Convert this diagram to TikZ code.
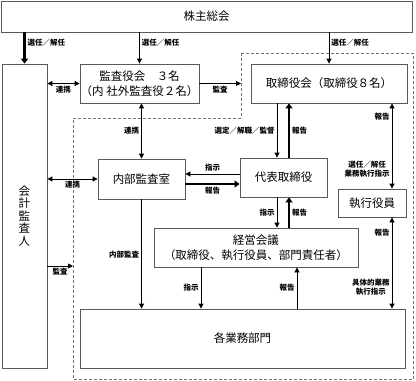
\documentclass[tikz,border=0pt]{standalone}
\usepackage{fontspec}
\setmainfont{Noto Sans CJK JP}
\usetikzlibrary{arrows.meta}

\begin{document}
\begin{tikzpicture}[
    x=1pt, y=-1pt,
    box/.style={rectangle, draw=black!65, line width=0.8pt, fill=white, align=center, inner sep=0pt, font=\fontsize{11.5}{15}\selectfont},
    region/.style={draw=black!55, line width=0.8pt, dash pattern=on 3pt off 2pt},
    arrow/.style={-{Triangle[length=5pt, width=5pt]}, line width=0.8pt},
    biarrow/.style={{Triangle[length=5pt, width=5pt]}-{Triangle[length=5pt, width=5pt]}, line width=0.8pt},
    thickarrow/.style={-{Triangle[length=5pt, width=7pt]}, line width=2.4pt},
    lbl/.style={font=\fontsize{7.5}{9}\selectfont\bfseries, align=center, inner sep=2pt}
]
\useasboundingbox (0,0) rectangle (416,381);
% Dashed region (execution side)
\draw[region] (241,53) -- (413,53) -- (413,379.5) -- (73,379.5) -- (73,118) -- (241,118) -- cycle;
\coordinate (regkansa) at (241,83.5);
\coordinate (regkaikei) at (73,266);
% Nodes
\node[box, minimum width=411pt, minimum height=31pt] (kabu) at (206.5,16.5) {株主総会};
\node[box, minimum width=45pt, minimum height=304pt, font=\fontsize{11.5}{12.5}\selectfont] (kaikei) at (24.5,216) {会\\計\\監\\査\\人};
\node[box, minimum width=119pt, minimum height=39pt] (kansa) at (139.5,83.5) {監査役会　３名\\（内 社外監査役２名）};
\node[box, minimum width=156pt, minimum height=39pt] (torishimari) at (329,83.5) {取締役会（取締役８名）};
\node[box, minimum width=87pt, minimum height=40pt] (naibu) at (141.5,179) {内部監査室};
\node[box, minimum width=87pt, minimum height=39pt] (daihyo) at (283.5,177.5) {代表取締役};
\node[box, minimum width=68pt, minimum height=28pt] (shikko) at (372,203) {執行役員};
\node[box, minimum width=204pt, minimum height=39pt] (keiei) at (256,247.5) {経営会議\\（取締役、執行役員、部門責任者）};
\node[box, minimum width=325pt, minimum height=59pt] (gyomu) at (242.5,338.5) {各業務部門};
% Shareholders
\draw[thickarrow] (kabu.south -| kaikei) -- node[lbl, right, pos=0.33] {選任／解任} (kaikei.north);
\draw[arrow] (kabu.south -| kansa) -- node[lbl, right, pos=0.33] {選任／解任} (kansa.north);
\draw[arrow] (kabu.south -| torishimari) -- node[lbl, right, pos=0.33] {選任／解任} (torishimari.north);
% Audit side
\draw[biarrow] (kaikei.east |- kansa) -- node[lbl, below] {連携} (kansa.west);
\draw[arrow] (kansa.east) -- node[lbl, below] {監査} (regkansa);
\draw[biarrow] (kansa.south -| naibu) -- node[lbl, left] {連携} (naibu.north);
\draw[biarrow] (kaikei.east |- naibu) -- node[lbl, below] {連携} (naibu.west);
\draw[arrow] (kaikei.east |- regkaikei) -- node[lbl, below] {監査} (regkaikei);
% Board and representative director
\draw[arrow] ([xshift=-6.5pt]torishimari.south -| daihyo) -- node[lbl, left] {選定／解職／監督} ([xshift=-6.5pt]daihyo.north);
\draw[thickarrow] ([xshift=5.5pt]daihyo.north) -- node[lbl, right] {報告} ([xshift=5.5pt]torishimari.south -| daihyo);
\draw[arrow] ([yshift=3.5pt]daihyo.west) -- node[lbl, above] {指示} ([yshift=3.5pt]daihyo.west -| naibu.east);
\draw[thickarrow] ([yshift=-6.5pt]daihyo.west -| naibu.east) -- node[lbl, below] {報告} ([yshift=-6.5pt]daihyo.west);
\draw[arrow] ([xshift=-6.5pt]daihyo.south) -- node[lbl, left] {指示} ([xshift=-6.5pt]keiei.north -| daihyo);
\draw[thickarrow] ([xshift=5.5pt]keiei.north -| daihyo) -- node[lbl, right] {報告} ([xshift=5.5pt]daihyo.south);
% Executive officers
\draw[biarrow] ([xshift=20pt]torishimari.south -| shikko) -- node[lbl, left, pos=0.16] {報告} node[lbl, left, pos=0.77] {選任／解任\\業務執行指示} ([xshift=20pt]shikko.north);
\draw[biarrow] ([xshift=20pt]shikko.south) -- node[lbl, left, pos=0.17] {報告} node[lbl, left, pos=0.77] {具体的業務\\執行指示} ([xshift=20pt]gyomu.north -| shikko);
% Business divisions
\draw[arrow] (naibu.south) -- node[lbl, left, pos=0.51] {内部監査} (gyomu.north -| naibu);
\draw[arrow] ([xshift=-55pt]keiei.south) -- node[lbl, left] {指示} ([xshift=-55pt]gyomu.north -| keiei);
\draw[arrow] ([xshift=41pt]gyomu.north -| keiei) -- node[lbl, left] {報告} ([xshift=41pt]keiei.south);
\end{tikzpicture}
\end{document}
